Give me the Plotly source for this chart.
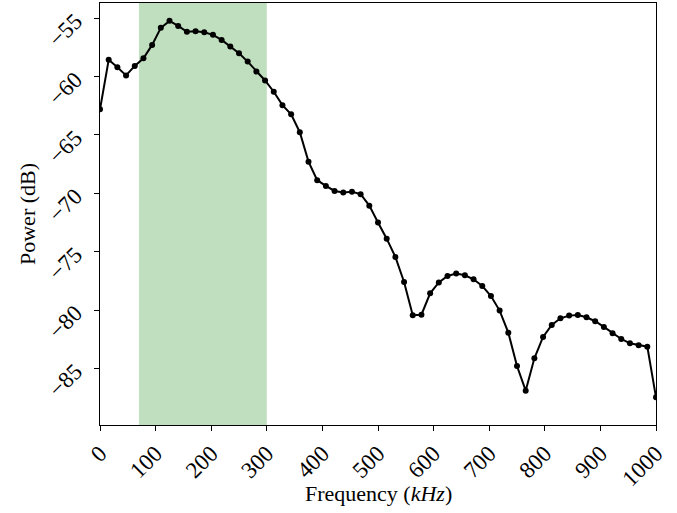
import plotly.graph_objects as go

freq_khz = [i * 1000 / 64 for i in range(65)]
power_db = [
    -62.8, -58.57, -59.2, -59.9, -59.09, -58.43, -57.29, -55.83, -55.23, -55.66,
    -56.17, -56.12, -56.2, -56.43, -56.86, -57.43, -58.0, -58.72, -59.57, -60.34,
    -61.3, -62.45, -63.23, -64.77, -67.29, -68.88, -69.37, -69.8, -69.94, -69.86,
    -70.08, -71.06, -72.51, -73.89, -75.45, -77.6, -80.45, -80.4, -78.57, -77.64,
    -77.08, -76.88, -77.02, -77.37, -77.94, -78.8, -80.05, -81.94, -84.8, -86.91,
    -84.14, -82.31, -81.28, -80.71, -80.48, -80.42, -80.62, -80.96, -81.45, -82.0,
    -82.48, -82.85, -83.02, -83.14, -87.48,
]
band = [70, 300]
xticks = [0, 100, 200, 300, 400, 500, 600, 700, 800, 900, 1000]
yticks = [-55, -60, -65, -70, -75, -80, -85]

font = "Liberation Serif"
fig = go.Figure()
fig.add_shape(type="rect", x0=band[0], x1=band[1], y0=0, y1=1, yref="paper",
              fillcolor="rgb(191,223,191)", line_width=0, layer="below")
fig.add_trace(go.Scatter(x=freq_khz, y=power_db, mode="lines+markers",
                         line=dict(color="black", width=2),
                         marker=dict(color="black", size=6)))
fig.update_layout(
    width=677, height=513, showlegend=False,
    plot_bgcolor="white", paper_bgcolor="white",
    margin=dict(l=100, r=21, t=3, b=88, autoexpand=False),
    font=dict(family=font, color="black", size=23),
    annotations=[
        dict(text="Frequency (<i>kHz</i>)", xref="paper", yref="paper",
             x=0.5, y=0, yshift=-68, showarrow=False, font=dict(size=22),
             xanchor="center", yanchor="middle"),
        dict(text="Power (dB)", xref="paper", yref="paper", textangle=-90,
             x=0, y=0.5, xshift=-73, showarrow=False, font=dict(size=22),
             xanchor="center", yanchor="middle"),
    ],
)
fig.update_xaxes(range=[0, 1000], tickvals=xticks, ticktext=[str(v) for v in xticks],
                 tickangle=-45, ticks="outside", ticklen=5, tickcolor="black",
                 showline=True, linecolor="black", linewidth=1, mirror=True,
                 showgrid=False, zeroline=False, automargin=False)
fig.update_yaxes(range=[-89.85, -53.7], tickvals=yticks,
                 ticktext=["\u2212" + str(-v) for v in yticks],
                 tickangle=-45, ticks="outside", ticklen=5, tickcolor="black",
                 ticklabelstandoff=14,
                 showline=True, linecolor="black", linewidth=1, mirror=True,
                 showgrid=False, zeroline=False, automargin=False)
fig.write_html("out.html", config={"displayModeBar": False},
               post_script="document.body.style.margin='0';")
